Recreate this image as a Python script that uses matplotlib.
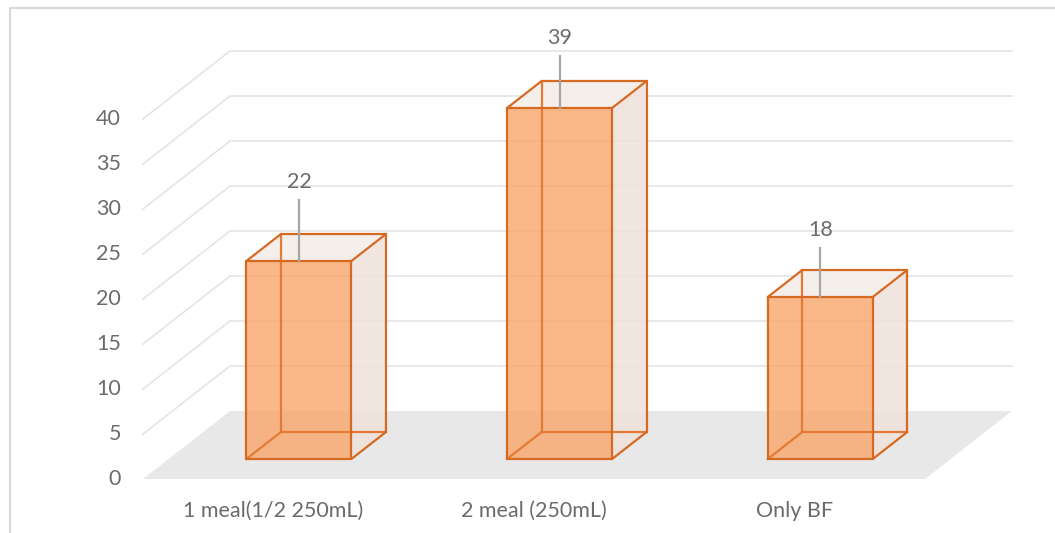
import numpy as np
import matplotlib.pyplot as plt
from matplotlib.patches import Polygon

# dados do grafico
categorias = ['1 meal(1/2 250mL)', '2 meal (250mL)', 'Only BF']
valores = [22, 39, 18]
ticks_y = [0, 5, 10, 15, 20, 25, 30, 35, 40]

# geometria do "3D" falso (em pixels da figura)
X0, Y0 = 143, 479          # canto frontal esquerdo do piso
px_por_unidade = 9.0
prof_dx, prof_dy = 87, -68  # vetor de profundidade
largura_piso = 782
meia_barra = 52.5
d_frente, d_tras = 0.294, 0.69
sobe_rotulo = [79, 70, 67]

cor_texto = '#6B6B6B'
cor_borda = '#D66A22'
cor_grade = '#E6E6E6'
tam = 15.5


def proj(x, v, d):
    # x em pixels ao longo do piso, v = valor, d = profundidade 0..1
    return (X0 + x + d * prof_dx, Y0 - v * px_por_unidade + d * prof_dy)


plt.rcParams['font.family'] = ['Lato', 'DejaVu Sans']
fig = plt.figure(figsize=(10.55, 5.33), dpi=100)
ax = fig.add_axes([0, 0, 1, 1])
ax.set_xlim(0, 1055)
ax.set_ylim(533, 0)
ax.axis('off')

# moldura do grafico
ax.plot([9.5, 9.5, 1060], [540, 7.5, 7.5], color='#D9D9D9', lw=1.5)

# piso
piso = [proj(0, 0, 0), proj(largura_piso, 0, 0), proj(largura_piso, 0, 1), proj(0, 0, 1)]
ax.add_patch(Polygon(piso, closed=True, fc='#E8E8E8', ec='none', zorder=1))

# linhas de grade (parede lateral + parede do fundo)
for t in ticks_y[1:]:
    a = proj(0, t, 0)
    b = proj(0, t, 1)
    c = proj(largura_piso, t, 1)
    ax.plot([a[0], b[0], c[0]], [a[1], b[1], c[1]], color=cor_grade, lw=1.3, zorder=1)
for t in ticks_y:
    a = proj(0, t, 0)
    ax.text(a[0] - 22, a[1], str(t), ha='right', va='center', fontsize=tam, color=cor_texto)

larg_cat = largura_piso / len(categorias)
for i, (cat, v) in enumerate(zip(categorias, valores)):
    xc = (i + 0.5) * larg_cat
    xl, xr = xc - meia_barra, xc + meia_barra
    # vertices
    fbl, fbr = proj(xl, 0, d_frente), proj(xr, 0, d_frente)
    ftl, ftr = proj(xl, v, d_frente), proj(xr, v, d_frente)
    bbl, bbr = proj(xl, 0, d_tras), proj(xr, 0, d_tras)
    btl, btr = proj(xl, v, d_tras), proj(xr, v, d_tras)

    # faces claras (lado direito e topo)
    ax.add_patch(Polygon([fbr, bbr, btr, ftr], closed=True, fc='#EEE1DA', ec='none', alpha=0.85, zorder=2))
    ax.add_patch(Polygon([ftl, ftr, btr, btl], closed=True, fc='#F4EEEA', ec='none', alpha=0.9, zorder=2))
    # face frontal
    ax.add_patch(Polygon([fbl, fbr, ftr, ftl], closed=True, fc='#F9A86E', ec='none', alpha=0.82, zorder=3))
    # arestas de tras (vistas atraves da face)
    for p, q in [(bbl, bbr), (bbl, btl), (fbl, bbl)]:
        ax.plot([p[0], q[0]], [p[1], q[1]], color='#E47A33', lw=1.6, zorder=4)
    # arestas da frente
    for p, q in [(fbl, fbr), (fbr, ftr), (ftr, ftl), (ftl, fbl), (fbr, bbr),
                 (bbr, btr), (ftr, btr), (ftl, btl), (btl, btr)]:
        ax.plot([p[0], q[0]], [p[1], q[1]], color=cor_borda, lw=1.6, zorder=5,
                solid_capstyle='round')

    # rotulo de dados com linha guia
    xm = (ftl[0] + ftr[0]) / 2
    yl = ftl[1] - sobe_rotulo[i]
    ax.plot([xm, xm], [yl + 18, ftl[1]], color='#A6A6A6', lw=1.6, zorder=6)
    ax.text(xm, yl, str(v), ha='center', va='center', fontsize=tam, color=cor_texto, zorder=6)

    # rotulo da categoria
    ax.text(X0 + xc, 511, cat, ha='center', va='center', fontsize=tam, color=cor_texto)

fig.savefig('out.png', dpi=100)
